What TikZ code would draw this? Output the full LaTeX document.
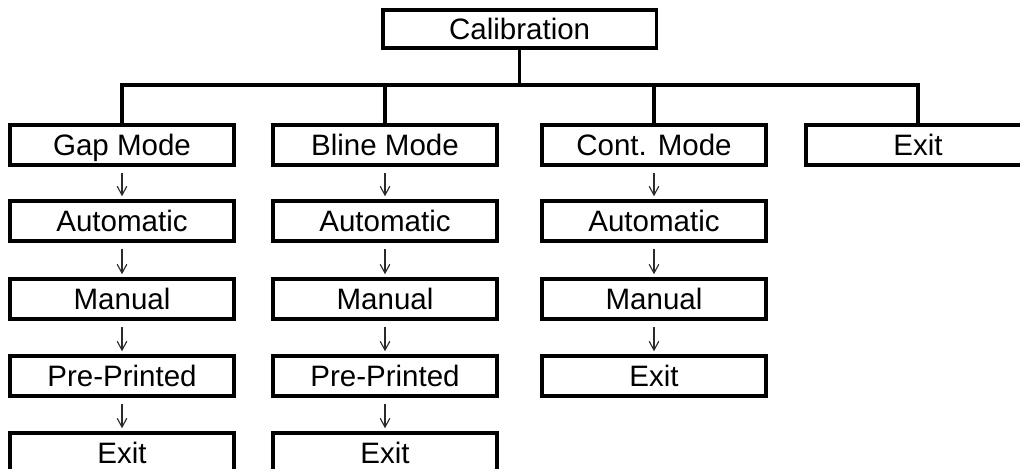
\documentclass[tikz,border=0pt]{standalone}
\usepackage{fontspec}
\setmainfont{Liberation Sans}
\usetikzlibrary{arrows.meta}
\definecolor{ink}{HTML}{000000}
\definecolor{arrgray}{HTML}{2A2A2A}
\tikzset{
  item/.style={draw=ink,line width=2.2pt,fill=white,minimum width=5.6cm,minimum height=1.0cm,inner sep=0pt,text height=15pt,text depth=0pt,font=\fontsize{21}{25}\selectfont,text=ink},
  top/.style={item,minimum width=6.83cm,minimum height=0.95cm},
  tree/.style={draw=ink,line width=2.2pt},
  arr/.style={-{Straight Barb[length=2.2mm,width=2.4mm]},draw=arrgray,line width=0.8pt,shorten <=0.17cm,shorten >=0.08cm}
}
\begin{document}
\begin{tikzpicture}[x=1cm,y=1cm]
\useasboundingbox (0,0) rectangle (25.5,11.725);
\clip (0,0) rectangle (25.5,11.725);
\node[top] (cal) at (12.99,11.0) {Calibration};
\coordinate (bus) at (12.95,9.6);
\node[item] (gap) at (3.05,8.1) {Gap Mode}; \node[item] (bln) at (9.625,8.1) {Bline Mode}; \node[item] (cnt) at (16.35,8.1) {Cont. Mode}; \node[item] (ext) at (22.95,8.1) {Exit};
\draw[tree] (cal.south) -- (cal.south |- bus);
\draw[tree] (gap.north) |- (bus) -| (ext.north);
\draw[tree] (bln.north) -- (bln.north |- bus); \draw[tree] (cnt.north) -- (cnt.north |- bus);
% gap mode column
\node[item] (gap1) at (3.05,6.2) {Automatic}; \node[item] (gap2) at (3.05,4.25) {Manual}; \node[item] (gap3) at (3.05,2.325) {Pre-Printed}; \node[item] (gap4) at (3.05,0.4) {Exit};
\draw[arr] (gap)--(gap1); \draw[arr] (gap1)--(gap2); \draw[arr] (gap2)--(gap3); \draw[arr] (gap3)--(gap4);
% bline mode column
\node[item] (bln1) at (9.625,6.2) {Automatic}; \node[item] (bln2) at (9.625,4.25) {Manual}; \node[item] (bln3) at (9.625,2.325) {Pre-Printed}; \node[item] (bln4) at (9.625,0.4) {Exit};
\draw[arr] (bln)--(bln1); \draw[arr] (bln1)--(bln2); \draw[arr] (bln2)--(bln3); \draw[arr] (bln3)--(bln4);
% cont. mode column
\node[item] (cnt1) at (16.35,6.2) {Automatic}; \node[item] (cnt2) at (16.35,4.25) {Manual}; \node[item] (cnt3) at (16.35,2.325) {Exit};
\draw[arr] (cnt)--(cnt1); \draw[arr] (cnt1)--(cnt2); \draw[arr] (cnt2)--(cnt3);
\end{tikzpicture}
\end{document}
